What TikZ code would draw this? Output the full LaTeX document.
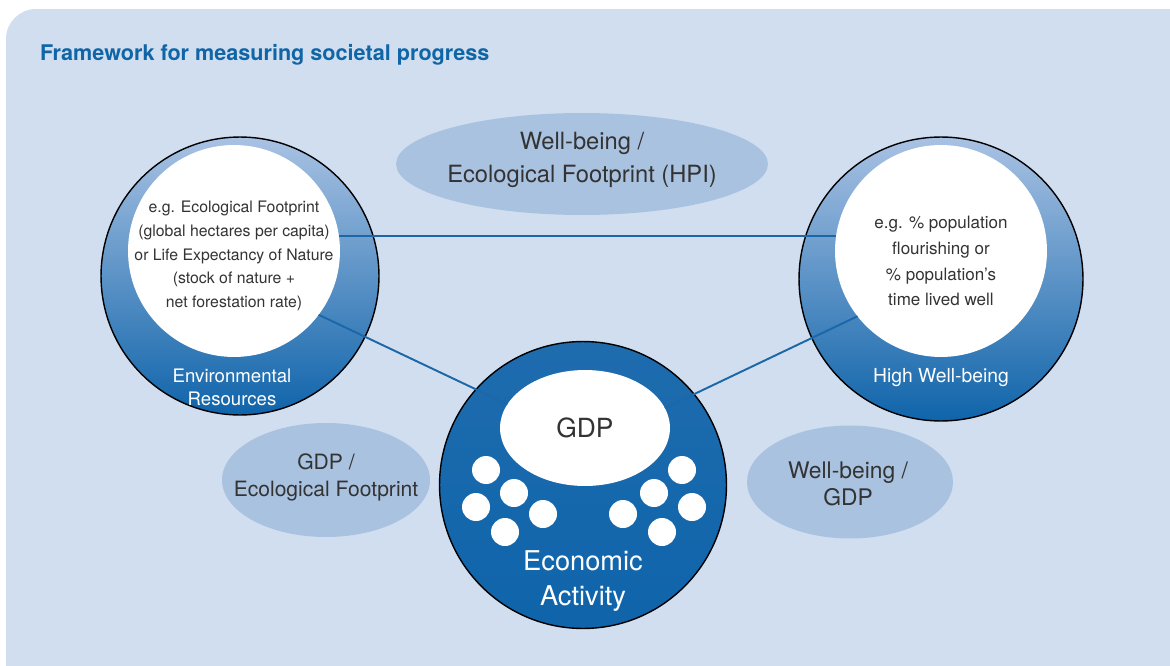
\documentclass[tikz,border=0pt]{standalone}
\usepackage{fontspec}
\setmainfont{TeX Gyre Heros}
\usetikzlibrary{shapes.geometric}
\definecolor{bgblue}{HTML}{D1DEEF}
\definecolor{ovalblue}{HTML}{A9C2E0}
\definecolor{ringtop}{HTML}{A9C2E3}
\definecolor{deepblue}{HTML}{0F64AA}
\definecolor{econtop}{HTML}{1E6CAE}
\definecolor{linkblue}{HTML}{1B67A8}
\definecolor{titleblue}{HTML}{0F65A6}
\definecolor{textgrey}{HTML}{333333}

\begin{document}
\begin{tikzpicture}[x=0.02cm, y=-0.02cm,
            every node/.style={inner sep=0pt, outer sep=0pt},
            link_style/.style={draw=linkblue, line width=1.1pt}]
            \tikzset{ring node/.style={circle, draw=black, line width=0.8pt, top color=ringtop, bottom color=deepblue}}
            \tikzset{white node/.style={circle, fill=white, minimum size=4.24cm}}
            \tikzset{oval node/.style={ellipse, fill=ovalblue}}
            \tikzset{dot node/.style={circle, fill=white, minimum size=0.56cm}}
            \tikzset{label node/.style={align=center, text=textgrey}}
            \tikzset{ring label/.style={align=center, text=white}}
            \useasboundingbox (0,0) rectangle (1170,666);
            \clip (0,0) rectangle (1170,666);
            \fill[bgblue, rounded corners=0.6cm] (6,9) rectangle (1220,720);
            \node[anchor=base west, text=titleblue, font=\bfseries\fontsize{12.3}{14}\selectfont] (title) at (40,60) {Framework for measuring societal progress};
            % ratio ovals
            \node[oval node, minimum width=7.44cm, minimum height=2.04cm] (hpi) at (582,164) {};
            \node[oval node, minimum width=4.16cm, minimum height=2.28cm] (gdpef) at (326,480) {};
            \node[oval node, minimum width=4.12cm, minimum height=2.26cm] (wbgdp) at (850,482) {};
            % the three circles
            \node[ring node, minimum size=5.56cm] (env) at (240,276) {};
            \node[ring node, minimum size=5.68cm] (well) at (941,279) {};
            \node[ring node, top color=econtop, minimum size=5.74cm] (econ) at (583,485) {};
            \node[white node] (envin) at (234,251) {};
            \node[white node] (wellin) at (941,251) {};
            \node[white node, ellipse, minimum width=3.4cm, minimum height=2.32cm] (gdp) at (585,428) {};
            \foreach \px/\py [count=\i] in {486/470, 514/493, 476/507, 543/514, 505/532,
                                           682/470, 654/493, 692/507, 623/514, 662/532}
                \node[dot node] (dot\i) at (\px,\py) {};
            % links
            \draw[link_style] (envin.8) -- (wellin.172);
            \draw[link_style] (envin.-37) -- (gdp.163);
            \draw[link_style] (wellin.218) -- (gdp.14);
            % texts
            \node[label node, font=\fontsize{9}{13.6}\selectfont] (envtext) at (234,256) {e.g. Ecological Footprint\\(global hectares per capita)\\or Life Expectancy of Nature\\(stock of nature +\\net forestation rate)};
            \node[label node, font=\fontsize{9.7}{14.7}\selectfont] (welltext) at (941,261) {e.g. \% population\\flourishing or\\\% population’s\\time lived well};
            \node[ring label, font=\fontsize{10.6}{13}\selectfont] (envlabel) at (232,387) {Environmental\\Resources};
            \node[ring label, font=\fontsize{11}{13}\selectfont] (welllabel) at (941,378) {High Well-being};
            \node[label node, font=\fontsize{15}{18}\selectfont] (gdptext) at (585,428) {GDP};
            \node[ring label, font=\fontsize{15.5}{19.8}\selectfont] (econlabel) at (583,581) {Economic\\Activity};
            \node[label node, font=\fontsize{13.5}{18.7}\selectfont] (hpitext) at (582,160) {Well-being /\\Ecological Footprint (HPI)};
            \node[label node, font=\fontsize{12}{15.3}\selectfont] (gdpeftext) at (326,477) {GDP /\\Ecological Footprint};
            \node[label node, font=\fontsize{13}{15.3}\selectfont] (wbgdptext) at (848,484) {Well-being /\\GDP};
        \end{tikzpicture}
\end{document}
